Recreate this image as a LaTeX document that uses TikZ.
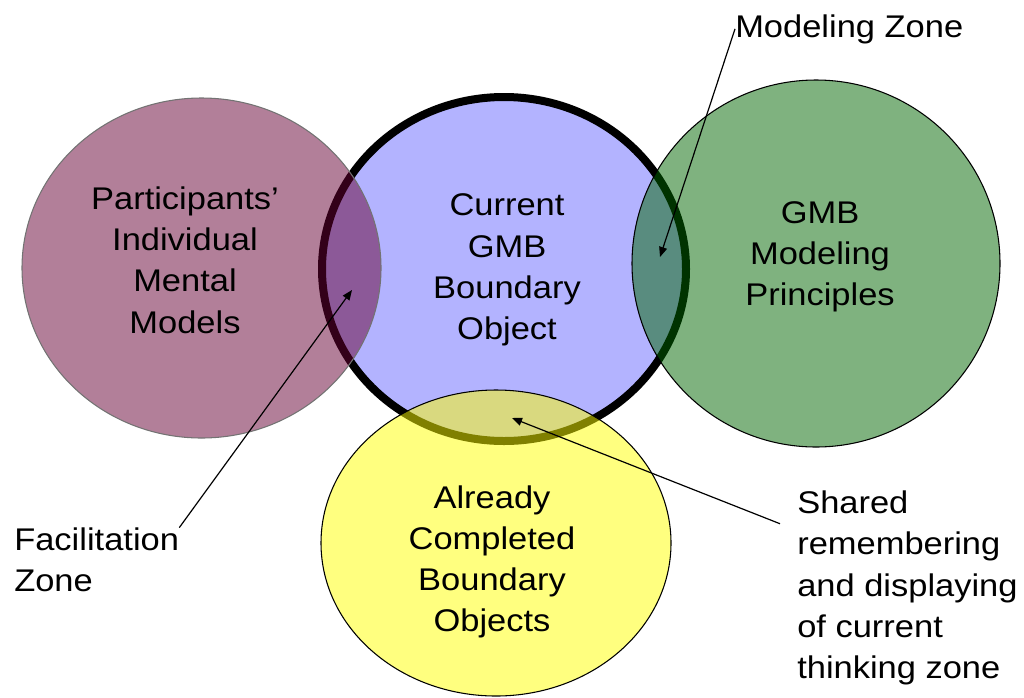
\documentclass[tikz,border=0pt]{standalone}
\usepackage{fontspec}
\setmainfont[FakeStretch=1.1]{Liberation Sans}
\usetikzlibrary{arrows.meta}
\definecolor{setblue}{RGB}{179,179,255}
\definecolor{setplum}{RGB}{102,0,51}
\definecolor{setgreen}{RGB}{0,102,0}
\definecolor{setyellow}{RGB}{255,255,0}

\begin{document}
\begin{tikzpicture}[x=0.75pt,y=-0.75pt,
    zone/.style={fill opacity=0.5,draw=black,line width=0.8pt},
    lbl/.style={align=center,inner sep=0pt,font=\fontsize{23.5pt}{30.9pt}\selectfont},
    note/.style={lbl,align=left},
    arr/.style={-{Triangle[length=7.5pt,width=6pt]},line width=0.9pt}]
  \useasboundingbox (0,0) rectangle (1024,697);
  % the current object lies underneath, the others are see-through
  \draw[fill=setblue,line width=6pt] (504,269) ellipse [x radius=182,y radius=172];
  \draw[zone,fill=setplum,draw=black!55] (201.5,268) ellipse [x radius=179.5,y radius=170];
  \draw[zone,fill=setgreen] (816,263.5) ellipse [x radius=184,y radius=183.5];
  \draw[zone,fill=setyellow] (496,543) ellipse [x radius=175,y radius=153];

  \node[lbl] (parts)   at (185,260) {Participants’\\Individual\\Mental\\Models};
  \node[lbl] (current) at (507,270) {Current\\GMB\\Boundary\\Object};
  \node[lbl] (gmb)     at (820,257) {GMB\\Modeling\\Principles};
  \node[lbl] (done)    at (492,562) {Already\\Completed\\Boundary\\Objects};

  \node[note,anchor=base west] (modzone) at (735,37) {Modeling Zone};
  \node[note,anchor=west] (facil)  at (14,560)  {Facilitation\\Zone};
  \node[note,anchor=west] (shared) at (797,588) {Shared\\remembering\\and displaying\\of current\\thinking zone};

  \coordinate (facilTip)  at (352,290);
  \coordinate (modTip)    at (660,257);
  \coordinate (sharedTip) at (512,418);
  \draw[arr] (facil.north east) -- (facilTip);
  \draw[arr] (modzone.west) -- (modTip);
  \draw[arr] ([shift={(-17,33)}]shared.north west) -- (sharedTip);
\end{tikzpicture}
\end{document}
